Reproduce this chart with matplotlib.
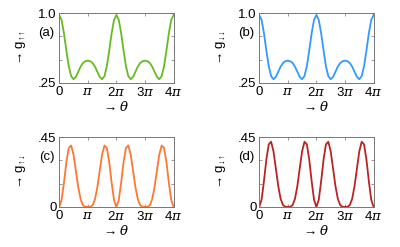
import numpy as np
import matplotlib
matplotlib.use("Agg")
import matplotlib.pyplot as plt

plt.rcParams['font.family'] = ['Liberation Sans', 'DejaVu Sans']
plt.rcParams['mathtext.fontset'] = 'custom'
plt.rcParams['mathtext.rm'] = 'Liberation Sans'
plt.rcParams['mathtext.it'] = 'DejaVu Serif:italic'

# theta sampled every pi/12 from 0 to 4pi
theta = np.arange(49) * np.pi / 12

# values (g_same: panels a, b)
g_same = [0.980, 0.926, 0.783, 0.599, 0.432, 0.324, 0.290, 0.316, 0.371, 0.426, 0.465, 0.484, 0.490,
          0.484, 0.465, 0.426, 0.371, 0.316, 0.290, 0.324, 0.432, 0.599, 0.783, 0.926, 0.980,
          0.926, 0.783, 0.599, 0.432, 0.324, 0.290, 0.316, 0.371, 0.426, 0.465, 0.484, 0.490,
          0.484, 0.465, 0.426, 0.371, 0.316, 0.290, 0.324, 0.432, 0.599, 0.783, 0.926, 0.980]

g_updown = [0.000, 0.045, 0.157, 0.288, 0.380, 0.396, 0.338, 0.233, 0.127, 0.049, 0.011, 0.001, 0.000,
            0.001, 0.011, 0.049, 0.127, 0.233, 0.338, 0.396, 0.380, 0.288, 0.157, 0.045, 0.000,
            0.045, 0.157, 0.288, 0.380, 0.396, 0.338, 0.233, 0.127, 0.049, 0.011, 0.001, 0.000,
            0.001, 0.011, 0.049, 0.127, 0.233, 0.338, 0.396, 0.380, 0.288, 0.157, 0.045, 0.000]

g_downup = [0.000, 0.047, 0.167, 0.305, 0.403, 0.420, 0.358, 0.247, 0.134, 0.052, 0.012, 0.001, 0.000,
            0.001, 0.012, 0.052, 0.134, 0.247, 0.358, 0.420, 0.403, 0.305, 0.167, 0.047, 0.000,
            0.047, 0.167, 0.305, 0.403, 0.420, 0.358, 0.247, 0.134, 0.052, 0.012, 0.001, 0.000,
            0.001, 0.012, 0.052, 0.134, 0.247, 0.358, 0.420, 0.403, 0.305, 0.167, 0.047, 0.000]

xticks = [0, np.pi, 2 * np.pi, 3 * np.pi, 4 * np.pi]
xticklabels = ['0', r'$\pi$', r'2$\pi$', r'3$\pi$', r'4$\pi$']

panels = [
    (g_same, '#66bb22', r'→ g$_{↑↑}$', '(a)', [0.25, 0.5, 0.75, 1.0], ['.25', '', '', '1.0']),
    (g_same, '#3399ff', r'→ g$_{↓↓}$', '(b)', [0.25, 0.5, 0.75, 1.0], ['.25', '', '', '1.0']),
    (g_updown, '#ff7733', r'→ g$_{↑↓}$', '(c)', [0, 0.15, 0.3, 0.45], ['0', '', '', '.45']),
    (g_downup, '#bb2222', r'→ g$_{↓↑}$', '(d)', [0, 0.15, 0.3, 0.45], ['0', '', '', '.45']),
]

fig = plt.figure(figsize=(4, 2.47), dpi=100)
boxes = [(0.148, 0.664), (0.648, 0.664), (0.148, 0.162), (0.648, 0.162)]

for (vals, col, ylab, tag, yt, ytl), (x0, y0) in zip(panels, boxes):
    ax = fig.add_axes([x0, y0, 0.286, 0.283])
    ax.plot(theta, vals, color=col, lw=1.3)
    ax.set_xlim(0, 4 * np.pi)
    ax.set_ylim(yt[0], yt[-1])
    ax.set_xticks(xticks)
    ax.set_xticklabels(xticklabels)
    ax.set_yticks(yt)
    ax.set_yticklabels(ytl)
    ax.tick_params(direction='in', length=2.5, width=0.6, color='#888888',
                   top=True, right=True, labelsize=9.5, pad=2)
    for s in ax.spines.values():
        s.set_color('#777777')
        s.set_linewidth(0.7)
    ax.set_xlabel(r'→ $\theta$', fontsize=9.5, labelpad=1)
    ax.set_ylabel(ylab, fontsize=9.5)
    ax.yaxis.set_label_coords(-0.27, 0.5)
    ax.text(-0.04, 0.71, tag, transform=ax.transAxes, ha='right', va='center', fontsize=9.5)

fig.savefig('out.png', dpi=100)
